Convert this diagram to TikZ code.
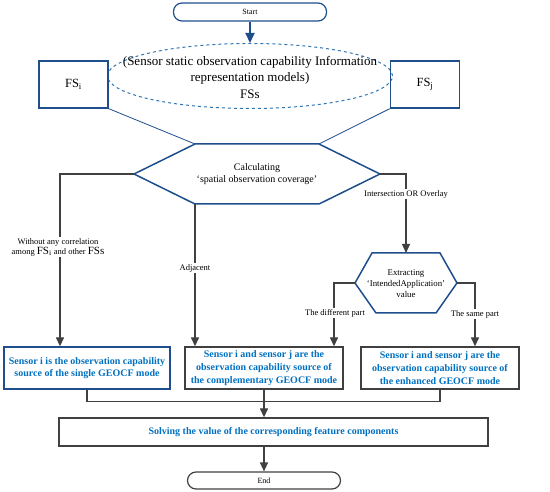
\documentclass[tikz,border=0pt]{standalone}
\usepackage{fontspec}
\setmainfont{Liberation Serif}
\usetikzlibrary{arrows.meta,shapes.geometric,calc}
\definecolor{dblue}{RGB}{31,78,140}
\definecolor{lblue}{RGB}{46,117,182}
\definecolor{tblue}{RGB}{0,112,192}
\definecolor{dgray}{RGB}{64,64,64}
\tikzset{
  term/.style={draw, rounded corners=8.5pt, line width=1.2pt, inner sep=0pt, font=\fontsize{8}{9}\selectfont},
  fsbox/.style={draw=dblue, line width=1.3pt, minimum width=69pt, minimum height=47pt, inner sep=0pt, font=\fontsize{12.5}{14}\selectfont},
  resbox/.style={draw=dgray, line width=1.3pt, minimum height=42pt, inner sep=0pt, align=center, text=tblue, font=\fontsize{10}{12.6}\selectfont\bfseries},
  hexline/.style={draw=dblue, line width=1.5pt},
  conn/.style={draw=dgray, line width=1.3pt, -{Triangle[length=9pt,width=8pt]}},
  plainline/.style={draw=dgray, line width=1.3pt},
  thinblue/.style={draw=dblue, line width=0.8pt},
  lbl/.style={fill=white, inner sep=1pt, font=\fontsize{8.5}{10}\selectfont},
}
\begin{document}
\begin{tikzpicture}[x=1pt,y=-1pt]
\useasboundingbox (0,0) rectangle (550,492);

% Start
\node[term, draw=dblue, minimum width=153pt, minimum height=18pt] (start) at (250,12) {Start};

% ellipse
\node[ellipse, draw=lblue, dashed, line width=1pt, minimum width=285pt, minimum height=65pt] (fss) at (250,76) {};
\node[align=center, inner sep=0pt, font=\fontsize{13}{16.5}\selectfont] (fsstext) at (250,77) {(Sensor static observation capability Information\\representation models)\\FSs};
\draw[draw=dblue, line width=2pt, -{Triangle[length=10pt,width=9pt]}] (start.south) -- (fss.north);

% FS boxes
\node[fsbox] (fsi) at (73.5,84.5) {FS\textsubscript{i}};
\node[fsbox] (fsj) at (425,84.5) {FS\textsubscript{j}};

% main hexagon
\coordinate (hL) at (134,174);
\coordinate (hTL) at (195,144);
\coordinate (hTR) at (319,144);
\coordinate (hR) at (380,174);
\coordinate (hBR) at (319,204);
\coordinate (hBL) at (195,204);
\draw[hexline] (hL) -- (hTL) -- (hTR) -- (hR) -- (hBR) -- (hBL) -- cycle;
\node[align=center, inner sep=0pt, font=\fontsize{10}{12.5}\selectfont] (calc) at (257,174) {Calculating\\‘spatial observation coverage’};

\draw[thinblue] (fsi.south east) -- (hTL);
\draw[thinblue] (fsj.south west) -- (hTR);

% small hexagon
\coordinate (sL) at (355,283);
\coordinate (sTL) at (372,253);
\coordinate (sT) at (406,253);
\coordinate (sTR) at (440,253);
\coordinate (sR) at (457,283);
\coordinate (sBR) at (436,313);
\coordinate (sBL) at (376,313);
\draw[hexline] (sL) -- (sTL) -- (sTR) -- (sR) -- (sBR) -- (sBL) -- cycle;
\node[align=center, inner sep=0pt, font=\fontsize{8.8}{11}\selectfont] (extr) at (406,284) {Extracting\\‘IntendedApplication’\\value};

% result boxes
\node[resbox, draw=dblue, minimum width=166pt] (left) at (87,368) {Sensor i is the observation capability\\source of the single GEOCF mode};
\node[resbox, minimum width=158pt, font=\fontsize{10}{13}\selectfont\bfseries] (mid) at (264,368) {Sensor i and sensor j are the\\observation capability source of\\the complementary GEOCF mode};
\node[resbox, minimum width=158pt, font=\fontsize{10}{13}\selectfont\bfseries] (right) at (440,368) {Sensor i and sensor j are the\\observation capability source of\\the enhanced GEOCF mode};

\node[resbox, minimum width=429pt, minimum height=28pt] (solve) at (273.5,432) {Solving the value of the corresponding feature components};

\node[term, draw=dgray, minimum width=153pt, minimum height=17pt] (end) at (264,480.5) {End};

% connectors
\draw[conn] (hL) -| ([xshift=-27pt]left.north);
\draw[conn] (hBL) -- (hBL |- mid.north);
\draw[conn] (hR) -| (sT);
\draw[conn] (sL) -| ([xshift=70pt]mid.north);
\draw[conn] (sR) -| ([xshift=35pt]right.north);

\draw[plainline] (left.south) -- ++(0,12) -| (right.south);
\draw[conn] (mid.south) -- (mid.south |- solve.north);
\draw[conn] (solve.south -| end.north) -- (end.north);

% labels
\node[lbl, align=center] (l1) at (58,247) {Without any correlation\\among {\fontsize{11}{11}\selectfont FS\textsubscript{i}} and other {\fontsize{11}{11}\selectfont FSs}};
\node[lbl] (l2) at (195,268) {Adjacent};
\node[lbl] (l3) at (406,194) {Intersection OR Overlay};
\node[lbl] (l4) at (335,313) {The different part};
\node[lbl] (l5) at (475,314) {The same part};
\end{tikzpicture}
\end{document}
